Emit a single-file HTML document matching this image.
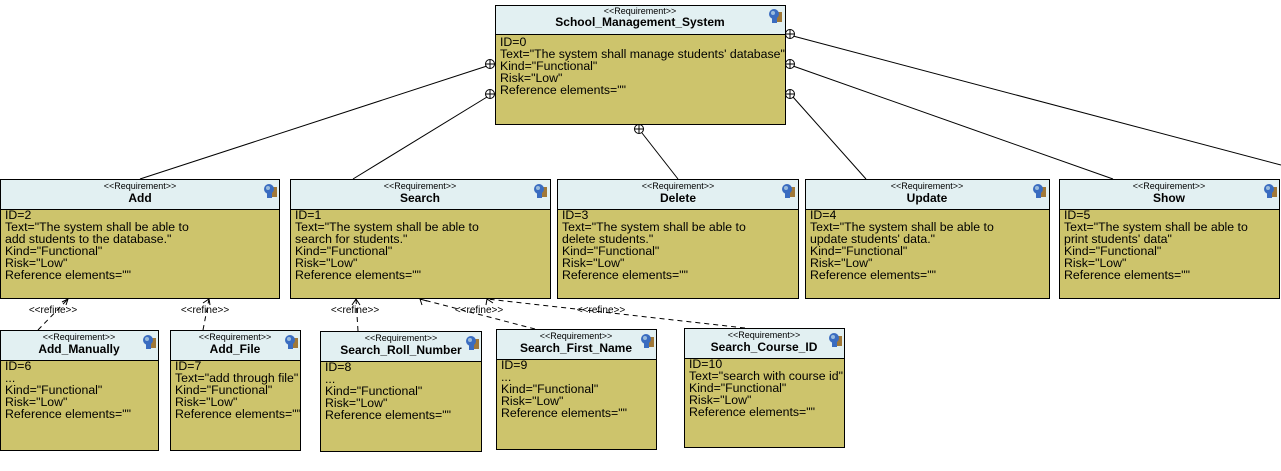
<!DOCTYPE html>
<html><head><meta charset="utf-8"><style>
body{margin:0;background:#fff;}
svg{display:block;font-family:"Liberation Sans",sans-serif;}
.h{fill:#e2f0f2;stroke:#000;stroke-width:1}
.b{fill:#cdc46c;stroke:#000;stroke-width:1}
.st{font-size:9px;text-anchor:middle}
.t{font-size:12px;font-weight:bold;text-anchor:middle}
.x{font-size:12.3px}
.l{stroke:#000;stroke-width:1;fill:none}
.d{stroke:#000;stroke-width:1;fill:none;stroke-dasharray:5,4}
.rf{font-size:10px;text-anchor:middle}
</style></head><body>
<svg width="1281" height="471" viewBox="0 0 1281 471">
<defs>
<g id="ic"><rect x="9" y="4" width="5" height="10" fill="#a07838"/><circle cx="6" cy="6" r="5" fill="#3a6cc0"/><rect x="4" y="8" width="5" height="7" fill="#3a6cc0"/><circle cx="5" cy="5" r="2" fill="#9bd"/></g>
<g id="cp"><circle r="4.5" fill="#fff" stroke="#000"/><path d="M-4.5 0H4.5M0 -4.5V4.5" stroke="#000"/></g>
</defs>
<line class="l" x1="487" y1="66" x2="140" y2="179"/>
<line class="l" x1="487" y1="97" x2="353" y2="179"/>
<line class="l" x1="642" y1="133" x2="678" y2="179"/>
<line class="l" x1="793" y1="97" x2="866" y2="179"/>
<line class="l" x1="793" y1="66" x2="1113" y2="179"/>
<line class="l" x1="793" y1="36" x2="1281" y2="165"/>
<use href="#cp" x="490" y="64"/><use href="#cp" x="490" y="94"/>
<use href="#cp" x="790" y="34"/><use href="#cp" x="790" y="64"/><use href="#cp" x="790" y="94"/>
<use href="#cp" x="639" y="129"/>
<line class="d" x1="38" y1="330" x2="68" y2="299"/>
<line class="d" x1="203" y1="330" x2="209" y2="299"/>
<line class="d" x1="358" y1="331" x2="356" y2="299"/>
<line class="d" x1="535" y1="329" x2="420" y2="299"/>
<line class="d" x1="745" y1="328" x2="487" y2="299"/>
<path class="l" d="M62 302L68 299L66 305M203 303L209 299L210 305M352 305L356 299L360 305M422 305L420 299L427 301M486 305L487 299L493 303"/>
<g class="rf"><text x="53" y="313">&lt;&lt;refine&gt;&gt;</text><text x="205" y="313">&lt;&lt;refine&gt;&gt;</text><text x="355" y="313">&lt;&lt;refine&gt;&gt;</text><text x="479" y="313">&lt;&lt;refine&gt;&gt;</text><text x="601" y="313">&lt;&lt;refine&gt;&gt;</text></g>
<rect class="h" x="495.5" y="5.5" width="290" height="29"/><rect class="b" x="495.5" y="34.5" width="290" height="90"/>
<text class="st" x="640" y="14">&lt;&lt;Requirement&gt;&gt;</text><text class="t" x="640" y="26">School_Management_System</text>
<use href="#ic" x="768" y="8"/>
<g class="x"><text x="500" y="46">ID=0</text><text x="500" y="58">Text="The system shall manage students' database"</text><text x="500" y="70">Kind="Functional"</text><text x="500" y="82">Risk="Low"</text><text x="500" y="94">Reference elements=""</text></g>
<rect class="h" x="0.5" y="179.5" width="279" height="30"/><rect class="b" x="0.5" y="209.5" width="279" height="89"/>
<text class="st" x="140" y="189">&lt;&lt;Requirement&gt;&gt;</text><text class="t" x="140" y="202">Add</text><use href="#ic" x="263" y="183"/>
<g class="x"><text x="5" y="219">ID=2</text><text x="5" y="231">Text="The system shall be able to</text><text x="5" y="243">add students to the database."</text><text x="5" y="255">Kind="Functional"</text><text x="5" y="267">Risk="Low"</text><text x="5" y="279">Reference elements=""</text></g>
<rect class="h" x="290.5" y="179.5" width="260" height="30"/><rect class="b" x="290.5" y="209.5" width="260" height="89"/>
<text class="st" x="420" y="189">&lt;&lt;Requirement&gt;&gt;</text><text class="t" x="420" y="202">Search</text><use href="#ic" x="533" y="183"/>
<g class="x"><text x="295" y="219">ID=1</text><text x="295" y="231">Text="The system shall be able to</text><text x="295" y="243">search for students."</text><text x="295" y="255">Kind="Functional"</text><text x="295" y="267">Risk="Low"</text><text x="295" y="279">Reference elements=""</text></g>
<rect class="h" x="557.5" y="179.5" width="241" height="30"/><rect class="b" x="557.5" y="209.5" width="241" height="89"/>
<text class="st" x="678" y="189">&lt;&lt;Requirement&gt;&gt;</text><text class="t" x="678" y="202">Delete</text><use href="#ic" x="781" y="183"/>
<g class="x"><text x="562" y="219">ID=3</text><text x="562" y="231">Text="The system shall be able to</text><text x="562" y="243">delete students."</text><text x="562" y="255">Kind="Functional"</text><text x="562" y="267">Risk="Low"</text><text x="562" y="279">Reference elements=""</text></g>
<rect class="h" x="805.5" y="179.5" width="244" height="30"/><rect class="b" x="805.5" y="209.5" width="244" height="89"/>
<text class="st" x="927" y="189">&lt;&lt;Requirement&gt;&gt;</text><text class="t" x="927" y="202">Update</text><use href="#ic" x="1032" y="183"/>
<g class="x"><text x="810" y="219">ID=4</text><text x="810" y="231">Text="The system shall be able to</text><text x="810" y="243">update students' data."</text><text x="810" y="255">Kind="Functional"</text><text x="810" y="267">Risk="Low"</text><text x="810" y="279">Reference elements=""</text></g>
<rect class="h" x="1059.5" y="179.5" width="220" height="30"/><rect class="b" x="1059.5" y="209.5" width="220" height="89"/>
<text class="st" x="1169" y="189">&lt;&lt;Requirement&gt;&gt;</text><text class="t" x="1169" y="202">Show</text><use href="#ic" x="1263" y="183"/>
<g class="x"><text x="1064" y="219">ID=5</text><text x="1064" y="231">Text="The system shall be able to</text><text x="1064" y="243">print students' data"</text><text x="1064" y="255">Kind="Functional"</text><text x="1064" y="267">Risk="Low"</text><text x="1064" y="279">Reference elements=""</text></g>
<rect class="h" x="0.5" y="330.5" width="158" height="30"/><rect class="b" x="0.5" y="360.5" width="158" height="90"/>
<text class="st" x="79" y="340">&lt;&lt;Requirement&gt;&gt;</text><text class="t" x="79" y="353">Add_Manually</text><use href="#ic" x="142" y="334"/>
<g class="x"><text x="5" y="370">ID=6</text><text x="5" y="382">...</text><text x="5" y="394">Kind="Functional"</text><text x="5" y="406">Risk="Low"</text><text x="5" y="418">Reference elements=""</text></g>
<rect class="h" x="170.5" y="330.5" width="130" height="30"/><rect class="b" x="170.5" y="360.5" width="130" height="90"/>
<text class="st" x="235" y="340">&lt;&lt;Requirement&gt;&gt;</text><text class="t" x="235" y="353">Add_File</text><use href="#ic" x="284" y="334"/>
<g class="x"><text x="175" y="370">ID=7</text><text x="175" y="382">Text="add through file"</text><text x="175" y="394">Kind="Functional"</text><text x="175" y="406">Risk="Low"</text><text x="175" y="418">Reference elements=""</text></g>
<rect class="h" x="320.5" y="331.5" width="161" height="30"/><rect class="b" x="320.5" y="361.5" width="161" height="90"/>
<text class="st" x="401" y="341">&lt;&lt;Requirement&gt;&gt;</text><text class="t" x="401" y="354">Search_Roll_Number</text><use href="#ic" x="465" y="335"/>
<g class="x"><text x="325" y="371">ID=8</text><text x="325" y="383">...</text><text x="325" y="395">Kind="Functional"</text><text x="325" y="407">Risk="Low"</text><text x="325" y="419">Reference elements=""</text></g>
<rect class="h" x="496.5" y="329.5" width="160" height="30"/><rect class="b" x="496.5" y="359.5" width="160" height="90"/>
<text class="st" x="576" y="339">&lt;&lt;Requirement&gt;&gt;</text><text class="t" x="576" y="352">Search_First_Name</text><use href="#ic" x="640" y="333"/>
<g class="x"><text x="501" y="369">ID=9</text><text x="501" y="381">...</text><text x="501" y="393">Kind="Functional"</text><text x="501" y="405">Risk="Low"</text><text x="501" y="417">Reference elements=""</text></g>
<rect class="h" x="684.5" y="328.5" width="160" height="30"/><rect class="b" x="684.5" y="358.5" width="160" height="89"/>
<text class="st" x="764" y="338">&lt;&lt;Requirement&gt;&gt;</text><text class="t" x="764" y="351">Search_Course_ID</text><use href="#ic" x="828" y="332"/>
<g class="x"><text x="689" y="368">ID=10</text><text x="689" y="380">Text="search with course id"</text><text x="689" y="392">Kind="Functional"</text><text x="689" y="404">Risk="Low"</text><text x="689" y="416">Reference elements=""</text></g>
</svg>
</body></html>
